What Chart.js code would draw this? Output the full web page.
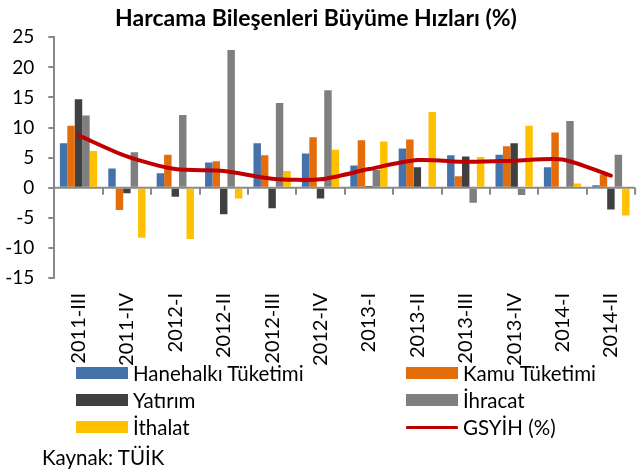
<!DOCTYPE html>
<html>
<head>
<meta charset="utf-8">
<script src="https://cdn.jsdelivr.net/npm/chart.js@4/dist/chart.umd.min.js"></script>
<style>
  html, body { margin:0; padding:0; background:#fff; overflow:hidden; }
  #wrap { position:relative; width:643px; height:472px; overflow:hidden; font-family:Lato, "Noto Sans", sans-serif; color:#000; }
  #cv { position:absolute; left:0; top:0; }
  #title { position:absolute; left:0; top:3px; width:632px; text-align:center; font-weight:bold; font-size:23px; line-height:28px; }
  .lg { position:absolute; height:24px; line-height:24px; font-size:20.5px; white-space:nowrap; }
  .sw { position:absolute; left:0; }
  .lt { position:absolute; left:57px; top:0; }
  #src { position:absolute; left:42px; top:445px; font-size:20.5px; line-height:24px; }
</style>
</head>
<body>
<div id="wrap">
  <canvas id="cv" width="650" height="472"></canvas>
  <div id="title">Harcama Bileşenleri Büyüme Hızları (%)</div>
  <div id="legend"></div>
  <div id="src">Kaynak: TÜİK</div>
</div>
<script>
const categories = ['2011-III','2011-IV','2012-I','2012-II','2012-III','2012-IV','2013-I','2013-II','2013-III','2013-IV','2014-I','2014-II'];
const hanehalki = [7.4, 3.2, 2.4, 4.2, 7.4, 5.7, 3.7, 6.5, 5.4, 5.5, 3.4, 0.4];
const kamu      = [10.3, -3.7, 5.5, 4.4, 5.4, 8.4, 7.9, 8.0, 1.9, 6.9, 9.2, 2.2];
const yatirim   = [14.7, -0.9, -1.5, -4.4, -3.4, -1.8, 0.3, 3.4, 5.2, 7.4, 0.0, -3.6];
const ihracat   = [12.0, 5.9, 12.1, 22.9, 14.1, 16.2, 3.0, 0.0, -2.5, -1.2, 11.1, 5.5];
const ithalat   = [6.1, -8.3, -8.5, -1.8, 2.8, 6.3, 7.7, 12.6, 5.1, 10.3, 0.7, -4.6];
const gsyih     = [8.7, 5.2, 3.1, 2.8, 1.5, 1.4, 3.1, 4.6, 4.3, 4.5, 4.7, 2.0];
const yTicks    = {min: -15, max: 25, step: 5};

const AXIS = '#898989';
function bar(label, data, color) {
  return { type:'bar', label, data, backgroundColor: color, borderWidth: 0, order: 1,
           barPercentage: 1.0, categoryPercentage: 0.77 };
}

const zeroAxis = {
  id: 'zeroAxis',
  beforeDatasetsDraw(chart) {
    const {ctx, chartArea, scales} = chart;
    const y0 = scales.y.getPixelForValue(0);
    const xs = scales.x;
    ctx.save();
    ctx.strokeStyle = AXIS;
    ctx.lineWidth = 2;
    ctx.beginPath();
    ctx.moveTo(chartArea.left, y0);
    ctx.lineTo(chartArea.right, y0);
    const n = chart.data.labels.length;
    for (let i = 1; i <= n; i++) {
      const xb = (xs.getPixelForValue(i - 1) + xs.getPixelForValue(i)) / 2;
      const x = i < n ? Math.round(xb) : chartArea.right;
      ctx.moveTo(x, y0);
      ctx.lineTo(x, y0 + 7);
    }
    ctx.stroke();
    ctx.restore();
  }
};

const chart = new Chart(document.getElementById('cv'), {
  data: {
    labels: categories,
    datasets: [
      bar('Hanehalkı Tüketimi', hanehalki, '#4672AC'),
      bar('Kamu Tüketimi', kamu, '#E46C0A'),
      bar('Yatırım', yatirim, '#404040'),
      bar('İhracat', ihracat, '#7F7F7F'),
      bar('İthalat', ithalat, '#FFC000'),
      { type:'line', label:'GSYİH (%)', data: gsyih, borderColor:'#C00000', backgroundColor:'#C00000',
        borderWidth: 4, pointRadius: 0, tension: 0.25, order: 0, borderCapStyle:'round', borderJoinStyle:'round' }
    ]
  },
  options: {
    responsive: false,
    animation: false,
    devicePixelRatio: 1,
    layout: { padding: { left: 0, right: 1.7, top: 37.3, bottom: 0 } },
    plugins: { legend: { display: false }, title: { display: false }, tooltip: { enabled: false } },
    scales: {
      x: {
        offset: true,
        grid: { display: false, drawTicks: false },
        border: { display: false },
        ticks: { autoSkip: false, maxRotation: 90, minRotation: 90, padding: 15, color: '#000',
                 font: { family: 'Lato', size: 20 } },
        afterFit(s) { s.height = 194; }
      },
      y: {
        min: yTicks.min, max: yTicks.max,
        grid: { drawOnChartArea: false, drawTicks: true, tickLength: 6, color: AXIS, lineWidth: 2 },
        border: { display: true, color: AXIS, width: 2 },
        ticks: { stepSize: yTicks.step, padding: 14, color: '#000', font: { family: 'Lato', size: 19 } },
        afterFit(s) { s.width = 54.3; }
      }
    }
  },
  plugins: [zeroAxis]
});

// HTML legend built from the chart's datasets (2 columns)
const legend = document.getElementById('legend');
const colX = [76, 406];
const rowY = [361, 388, 415];
chart.data.datasets.forEach((ds, i) => {
  const el = document.createElement('div');
  el.className = 'lg';
  el.style.left = colX[i % 2] + 'px';
  el.style.top = rowY[Math.floor(i / 2)] + 'px';
  const sw = document.createElement('div');
  if (ds.type === 'line') {
    sw.style.cssText = 'position:absolute;left:0;top:11px;width:52px;height:3px;background:' + ds.borderColor + ';border-radius:1px;';
  } else {
    sw.style.cssText = 'position:absolute;left:0;top:6px;width:52px;height:12px;background:' + ds.backgroundColor + ';';
  }
  const t = document.createElement('span');
  t.className = 'lt';
  t.textContent = ds.label;
  el.appendChild(sw); el.appendChild(t);
  legend.appendChild(el);
});
</script>
</body>
</html>
